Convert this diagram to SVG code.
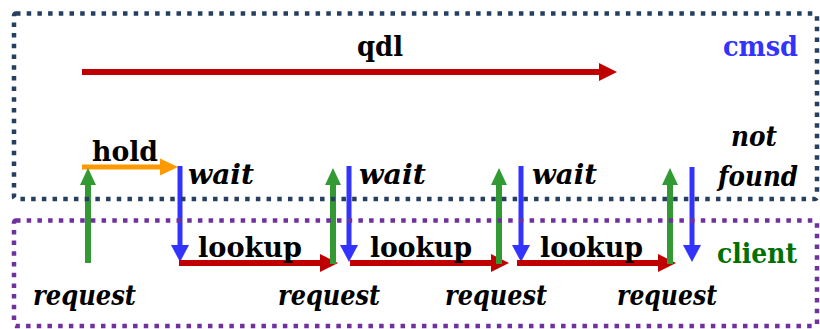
<svg xmlns="http://www.w3.org/2000/svg" width="820" height="329" viewBox="0 0 820 329">
  <style>
    .box { fill: none; stroke-width: 4.5; stroke-dasharray: 4.5 6.2; }
    .navy { stroke: #243F60; }
    .purple { stroke: #7030A0; }
    .arr { fill: none; stroke-linecap: butt; }
    .red { stroke: #C00000; stroke-width: 6; }
    .orange { stroke: #FF9900; stroke-width: 5; }
    .green { stroke: #339933; stroke-width: 6; }
    .blue { stroke: #3333FF; stroke-width: 5; }
    .lbl { font-family: "DejaVu Serif", "Liberation Serif", serif; font-size: 28px; font-weight: bold; fill: #000; }
    .it { font-style: italic; }
  </style>
  <defs>
    <marker id="hRed" markerUnits="userSpaceOnUse" markerWidth="18" markerHeight="18" viewBox="0 0 18 18" refX="4" refY="9" orient="auto">
      <path d="M0,0 L18,9 L0,18 Z" fill="#C00000"/>
    </marker>
    <marker id="hOrange" markerUnits="userSpaceOnUse" markerWidth="18" markerHeight="18" viewBox="0 0 18 18" refX="4" refY="9" orient="auto">
      <path d="M0,0.5 L18,9 L0,17.5 Z" fill="#FF9900"/>
    </marker>
    <marker id="hGreen" markerUnits="userSpaceOnUse" markerWidth="18" markerHeight="18" viewBox="0 0 18 18" refX="4" refY="9" orient="auto">
      <path d="M0,1 L17,9 L0,17 Z" fill="#339933"/>
    </marker>
    <marker id="hBlue" markerUnits="userSpaceOnUse" markerWidth="18" markerHeight="18" viewBox="0 0 18 18" refX="4" refY="9" orient="auto">
      <path d="M0,0 L17,9 L0,18 Z" fill="#3333FF"/>
    </marker>
  </defs>
  <rect width="820" height="329" fill="#FFFFFF"/>

  <g id="connectors">
    <line class="arr red" x1="82" y1="72" x2="603" y2="72" marker-end="url(#hRed)"/>
    <line class="arr orange" x1="82" y1="167" x2="164" y2="167" marker-end="url(#hOrange)"/>
    <line class="arr green" x1="88" y1="263" x2="88" y2="181" marker-end="url(#hGreen)"/>
    <line class="arr blue" x1="180" y1="166" x2="180" y2="249" marker-end="url(#hBlue)"/>
    <line class="arr red" x1="179" y1="263" x2="324" y2="263" marker-end="url(#hRed)"/>
    <line class="arr green" x1="333" y1="264" x2="333" y2="181" marker-end="url(#hGreen)"/>
    <line class="arr blue" x1="349" y1="166" x2="349" y2="249" marker-end="url(#hBlue)"/>
    <line class="arr red" x1="350" y1="263" x2="495" y2="263" marker-end="url(#hRed)"/>
    <line class="arr green" x1="499" y1="264" x2="499" y2="181" marker-end="url(#hGreen)"/>
    <line class="arr blue" x1="521" y1="166" x2="521" y2="249" marker-end="url(#hBlue)"/>
    <line class="arr red" x1="517" y1="263" x2="662" y2="263" marker-end="url(#hRed)"/>
    <line class="arr green" x1="670" y1="264" x2="670" y2="181" marker-end="url(#hGreen)"/>
    <line class="arr blue" x1="692" y1="167" x2="692" y2="249" marker-end="url(#hBlue)"/>
  </g>

  <g id="labels">
    <text class="lbl" x="357" y="56" textLength="46" lengthAdjust="spacingAndGlyphs">qdl</text>
    <text class="lbl" x="92" y="161" textLength="66" lengthAdjust="spacingAndGlyphs">hold</text>
    <text class="lbl it" x="188" y="184" textLength="66" lengthAdjust="spacingAndGlyphs">wait</text>
    <text class="lbl it" x="359" y="184" textLength="67" lengthAdjust="spacingAndGlyphs">wait</text>
    <text class="lbl it" x="532" y="184" textLength="65" lengthAdjust="spacingAndGlyphs">wait</text>
    <text class="lbl it" x="731" y="146" textLength="46" lengthAdjust="spacingAndGlyphs">not</text>
    <text class="lbl it" x="718" y="186" textLength="80" lengthAdjust="spacingAndGlyphs">found</text>
    <text class="lbl" x="198" y="257" textLength="104" lengthAdjust="spacingAndGlyphs">lookup</text>
    <text class="lbl" x="370" y="257" textLength="102" lengthAdjust="spacingAndGlyphs">lookup</text>
    <text class="lbl" x="540" y="257" textLength="103" lengthAdjust="spacingAndGlyphs">lookup</text>
    <text class="lbl it" x="33" y="305" textLength="103" lengthAdjust="spacingAndGlyphs">request</text>
    <text class="lbl it" x="278" y="305" textLength="102" lengthAdjust="spacingAndGlyphs">request</text>
    <text class="lbl it" x="445" y="305" textLength="102" lengthAdjust="spacingAndGlyphs">request</text>
    <text class="lbl it" x="617" y="305" textLength="100" lengthAdjust="spacingAndGlyphs">request</text>
  </g>

  <g id="cmsd">
    <rect class="box navy" x="14" y="13.5" width="803" height="185.5" rx="2"/>
    <text class="lbl" x="723" y="56" textLength="75" lengthAdjust="spacingAndGlyphs" style="fill:#3333FF">cmsd</text>
  </g>

  <g id="client">
    <rect class="box purple" x="14" y="220.5" width="803" height="105.5" rx="2"/>
    <text class="lbl" x="717" y="263" textLength="80" lengthAdjust="spacingAndGlyphs" style="fill:#007000">client</text>
  </g>
</svg>
